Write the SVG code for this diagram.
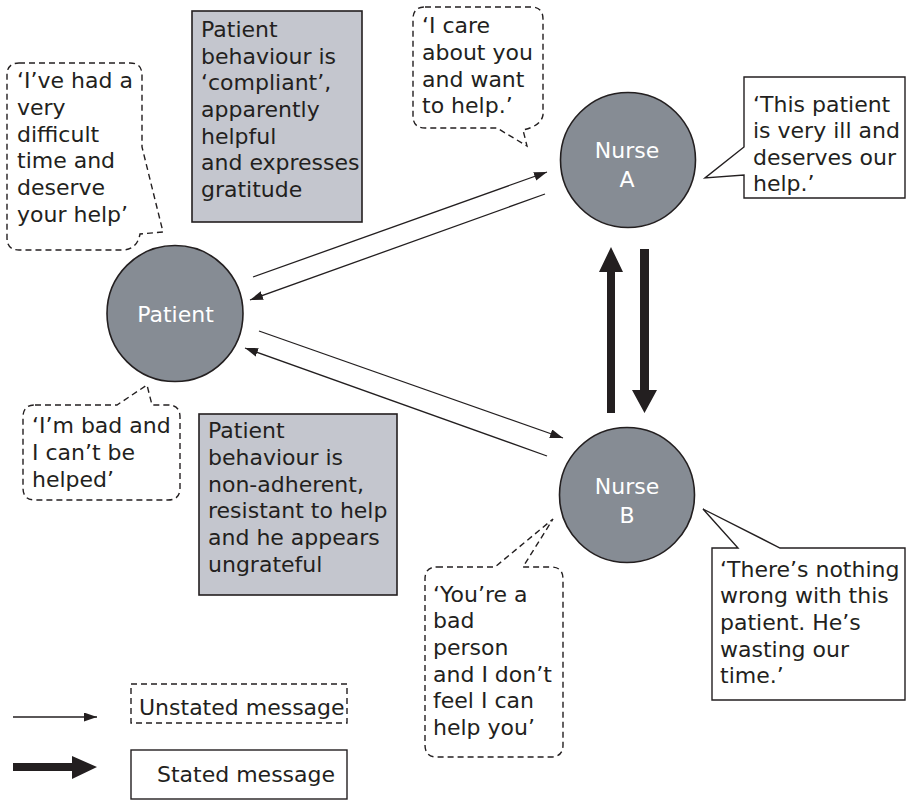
<svg xmlns="http://www.w3.org/2000/svg" width="906" height="800" viewBox="0 0 906 800">
  <style>
    text { font-family: "DejaVu Sans", "Noto Sans", sans-serif; font-size: 22px; fill: #231f20; }
    .node { fill: #868c94; stroke: #231f20; stroke-width: 1.6; }
    .label { fill: #ffffff; text-anchor: middle; }
    .box { fill: #c4c6ce; stroke: #231f20; stroke-width: 1.6; }
    .thought { fill: #ffffff; stroke: #231f20; stroke-width: 1.4; stroke-dasharray: 6 4; }
    .speech { fill: #ffffff; stroke: #231f20; stroke-width: 1.4; }
    .thin { fill: none; stroke: #231f20; stroke-width: 1.3; marker-end: url(#head); }
    .thick { fill: #231f20; stroke: none; }
  </style>
  <defs>
    <marker id="head" markerUnits="userSpaceOnUse" markerWidth="14" markerHeight="10" refX="13" refY="4.5" orient="auto">
      <path d="M0,0 L13,4.5 L0,9 Z" fill="#231f20"/>
    </marker>
  </defs>

  <!-- message arrows -->
  <g id="connectors">
    <line class="thin" x1="253" y1="277" x2="547" y2="172"/>
    <line class="thin" x1="545" y1="194" x2="250" y2="300"/>
    <line class="thin" x1="259" y1="331" x2="563" y2="438"/>
    <line class="thin" x1="547" y1="456" x2="245" y2="348"/>
    <polygon class="thick" points="607,413 615,413 615,272 623,272 611,247 599,272 607,272"/>
    <polygon class="thick" points="640,249 649,249 649,390 657,390 644.5,413 632,390 640,390"/>
  </g>

  <!-- people -->
  <g id="patient">
    <circle class="node" cx="175" cy="313.5" r="68"/>
    <text class="label" x="175.5" y="322">Patient</text>
  </g>
  <g id="nurse-a">
    <circle class="node" cx="628" cy="160" r="67.5"/>
    <text class="label" x="627" y="158">Nurse</text>
    <text class="label" x="627" y="187">A</text>
  </g>
  <g id="nurse-b">
    <circle class="node" cx="627" cy="495" r="67.5"/>
    <text class="label" x="627" y="494">Nurse</text>
    <text class="label" x="627" y="523">B</text>
  </g>

  <!-- observed behaviour -->
  <g id="behaviour-compliant">
    <rect class="box" x="192" y="11" width="170" height="211"/>
    <text x="201" y="37">Patient</text>
    <text x="201" y="63.5">behaviour is</text>
    <text x="201" y="90">‘compliant’,</text>
    <text x="201" y="117">apparently</text>
    <text x="201" y="143.5">helpful</text>
    <text x="201" y="170">and expresses</text>
    <text x="201" y="197">gratitude</text>
  </g>
  <g id="behaviour-resistant">
    <rect class="box" x="199" y="414" width="198" height="181"/>
    <text x="208" y="438">Patient</text>
    <text x="208" y="465">behaviour is</text>
    <text x="208" y="492">non-adherent,</text>
    <text x="208" y="518">resistant to help</text>
    <text x="208" y="545">and he appears</text>
    <text x="208" y="572">ungrateful</text>
  </g>

  <!-- unstated messages -->
  <g id="thought-patient-a">
    <path class="thought" d="M19,63 H130 Q142,63 142,75 V147 L163,232 L140,234 Q137,250 122,250 H19 Q7,250 7,238 V75 Q7,63 19,63 Z"/>
    <text x="17" y="88">‘I’ve had a</text>
    <text x="17" y="115">very</text>
    <text x="17" y="142">difficult</text>
    <text x="17" y="168">time and</text>
    <text x="17" y="195">deserve</text>
    <text x="17" y="222">your help’</text>
  </g>
  <g id="thought-nurse-a">
    <path class="thought" d="M425,7 H531 Q543,7 543,19 V115 Q541,126 523,130 L527,146 L497,128 H425 Q413,128 413,116 V19 Q413,7 425,7 Z"/>
    <text x="422" y="33">‘I care</text>
    <text x="422" y="60">about you</text>
    <text x="422" y="87">and want</text>
    <text x="422" y="113">to help.’</text>
  </g>
  <g id="thought-patient-b">
    <path class="thought" d="M35,405 H117 L147,385 L152,405 H168 Q180,405 180,417 V488 Q180,500 168,500 H35 Q23,500 23,488 V417 Q23,405 35,405 Z"/>
    <text x="32" y="433">‘I’m bad and</text>
    <text x="32" y="460">I can’t be</text>
    <text x="32" y="487">helped’</text>
  </g>
  <g id="thought-nurse-b">
    <path class="thought" d="M437,567 H495 L553,519 L523,567 H551 Q563,567 563,579 V745 Q563,757 551,757 H437 Q425,757 425,745 V579 Q425,567 437,567 Z"/>
    <text x="433" y="602">‘You’re a</text>
    <text x="433" y="628">bad</text>
    <text x="433" y="655">person</text>
    <text x="433" y="682">and I don’t</text>
    <text x="433" y="708">feel I can</text>
    <text x="433" y="735">help you’</text>
  </g>

  <!-- stated messages -->
  <g id="speech-nurse-a">
    <path class="speech" d="M744,77 H905 V198 H744 V175 L705,178 L744,147 Z"/>
    <text x="753" y="112">‘This patient</text>
    <text x="753" y="138">is very ill and</text>
    <text x="753" y="165">deserves our</text>
    <text x="753" y="191">help.’</text>
  </g>
  <g id="speech-nurse-b">
    <path class="speech" d="M712,548 H738 L703,509 L780,548 H905 V700 H712 Z"/>
    <text x="720" y="577">‘There’s nothing</text>
    <text x="720" y="603">wrong with this</text>
    <text x="720" y="630">patient. He’s</text>
    <text x="720" y="657">wasting our</text>
    <text x="720" y="683">time.’</text>
  </g>

  <!-- key -->
  <g id="legend">
    <line class="thin" x1="13" y1="717" x2="97" y2="717"/>
    <rect class="thought" x="131" y="684" width="216" height="39"/>
    <text x="139" y="715">Unstated message</text>
    <polygon class="thick" points="13,763 72,763 72,756 97,767 72,779 72,771 13,771"/>
    <rect class="speech" x="131" y="750" width="216" height="49"/>
    <text x="157" y="782">Stated message</text>
  </g>
</svg>
